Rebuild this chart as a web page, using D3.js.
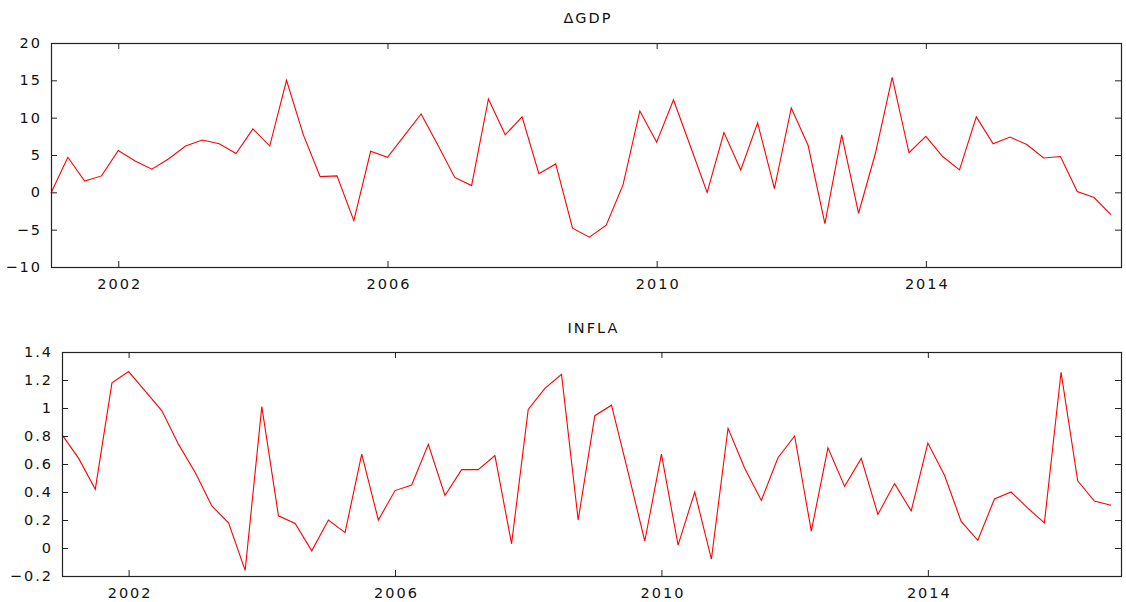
<!DOCTYPE html>
<html>
<head>
<meta charset="utf-8">
<script src="https://cdn.jsdelivr.net/npm/d3@7"></script>
<style>
  html, body { margin: 0; padding: 0; background: #fff; }
  svg text { font-family: "DejaVu Sans", sans-serif; font-size: 14.5px; fill: #111; letter-spacing: 2px; }
</style>
</head>
<body>
<svg id="chart" width="1126" height="602"></svg>
<script>
// Quarterly observations, 2001:1 – 2016:4
const startYear = 2001;
const nObs = 64;
const periods = d3.range(nObs).map(i => startYear + i / 4);

// Quarterly GDP growth (annualised, %)
const gdpGrowth = [
  -0.1, 4.7, 1.5, 2.2, 5.6, 4.2, 3.1, 4.5, 6.2, 7.0, 6.5, 5.2, 8.5, 6.2, 15.0, 7.7,
  2.1, 2.2, -3.8, 5.5, 4.7, 7.6, 10.5, 6.3, 2.0, 0.9, 12.5, 7.7, 10.1, 2.5, 3.8, -4.8,
  -6.0, -4.4, 1.0, 10.9, 6.7, 12.4, 6.2, 0.0, 8.0, 3.0, 9.3, 0.5, 11.3, 6.3, -4.2, 7.7,
  -2.8, 5.2, 15.4, 5.3, 7.5, 4.8, 3.0, 10.1, 6.5, 7.4, 6.4, 4.6, 4.8, 0.1, -0.7, -3.0
];

// Quarterly inflation (%)
const inflation = [
  0.81, 0.64, 0.42, 1.18, 1.26, 1.12, 0.98, 0.74, 0.54, 0.30, 0.18, -0.16, 1.01, 0.23, 0.175, -0.02,
  0.20, 0.11, 0.67, 0.20, 0.41, 0.45, 0.74, 0.375, 0.56, 0.56, 0.66, 0.03, 0.99, 1.14, 1.24, 0.20,
  0.945, 1.02, 0.54, 0.05, 0.67, 0.02, 0.40, -0.08, 0.855, 0.57, 0.34, 0.645, 0.80, 0.12, 0.715, 0.44,
  0.64, 0.24, 0.46, 0.265, 0.75, 0.52, 0.19, 0.055, 0.35, 0.40, 0.285, 0.18, 1.255, 0.48, 0.335, 0.305
];

const xTickValues = [2002, 2006, 2010, 2014];
const gdpTicks = [-10, -5, 0, 5, 10, 15, 20];
const inflTicks = [-0.2, 0, 0.2, 0.4, 0.6, 0.8, 1, 1.2, 1.4];

const titles = ["\u0394GDP", "INFLA"];

const svg = d3.select("#chart");
const tickLen = 6;
const spacing = 2; // matches the letter-spacing in the stylesheet

function panel(cfg) {
  const x = d3.scaleLinear().domain([2001, 2016.9]).range([cfg.left, cfg.right]);
  const y = d3.scaleLinear().domain(cfg.yDomain).range([cfg.bottom, cfg.top]);
  const g = svg.append("g");

  // title
  g.append("text")
    .attr("x", (cfg.left + cfg.right) / 2 + 2)
    .attr("y", cfg.titleY)
    .attr("text-anchor", "middle")
    .text(cfg.title);

  // series line
  const line = d3.line().x((d, i) => x(periods[i])).y(d => y(d));
  g.append("path")
    .datum(cfg.values)
    .attr("fill", "none")
    .attr("stroke", "#ff0000")
    .attr("stroke-width", 1.1)
    .attr("stroke-linejoin", "miter")
    .attr("d", line);

  // axes with inward ticks on all four sides
  const fmt = d3.format("~g");
  const bottomAxis = d3.axisBottom(x).tickValues(xTickValues).tickFormat(d3.format("d"))
    .tickSizeInner(-tickLen).tickSizeOuter(0).tickPadding(tickLen + 6);
  const topAxis = d3.axisTop(x).tickValues(xTickValues).tickFormat("")
    .tickSizeInner(-tickLen).tickSizeOuter(0);
  const leftAxis = d3.axisLeft(y).tickValues(cfg.yTicks).tickFormat(fmt)
    .tickSizeInner(-tickLen).tickSizeOuter(0).tickPadding(tickLen + 3);
  const rightAxis = d3.axisRight(y).tickValues(cfg.yTicks).tickFormat("")
    .tickSizeInner(-tickLen).tickSizeOuter(0);

  const ax = [
    g.append("g").attr("transform", `translate(0,${cfg.bottom})`).call(bottomAxis),
    g.append("g").attr("transform", `translate(0,${cfg.top})`).call(topAxis),
    g.append("g").attr("transform", `translate(${cfg.left},0)`).call(leftAxis),
    g.append("g").attr("transform", `translate(${cfg.right},0)`).call(rightAxis)
  ];
  ax.forEach(a => {
    a.select(".domain").remove();
    a.selectAll("line").attr("stroke", "#222");
    a.selectAll("text").attr("font-family", null).attr("font-size", null).attr("fill", null);
  });
  // centre the spaced x labels on their ticks
  ax[0].selectAll("text").attr("dx", spacing / 2);

  // frame
  g.append("rect")
    .attr("x", cfg.left + 0.5).attr("y", cfg.top + 0.5)
    .attr("width", cfg.right - cfg.left).attr("height", cfg.bottom - cfg.top)
    .attr("fill", "none").attr("stroke", "#222").attr("stroke-width", 1.2);
}

panel({
  title: titles[0], values: gdpGrowth, yDomain: [-10, 20], yTicks: gdpTicks,
  left: 51, right: 1121, top: 43, bottom: 267, titleY: 23
});

panel({
  title: titles[1], values: inflation, yDomain: [-0.2, 1.4], yTicks: inflTicks,
  left: 62, right: 1121, top: 352, bottom: 576, titleY: 333
});
</script>
</body>
</html>
